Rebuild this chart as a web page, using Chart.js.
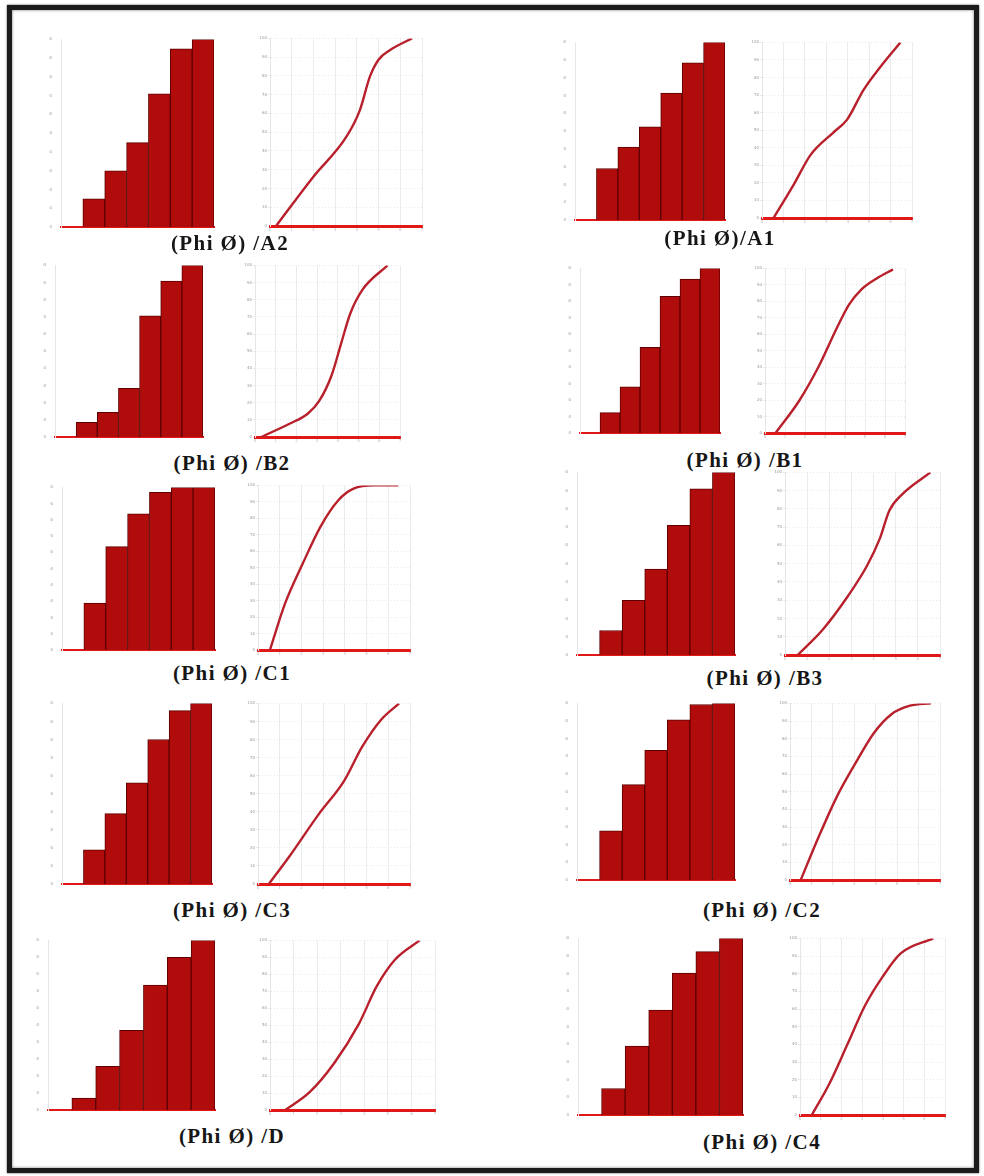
<!DOCTYPE html>
<html>
<head>
<meta charset="utf-8">
<script src="https://cdn.jsdelivr.net/npm/chart.js@4"></script>
<style>
  html, body { margin: 0; padding: 0; background: #fff; }
  body { width: 984px; height: 1176px; position: relative; overflow: hidden; }
  #frame {
    position: absolute; left: 7px; top: 5px; width: 962px; height: 1158px;
    border: 5px solid #1b1b1b; box-shadow: inset 0 0 3px #777, 0 0 2px #555;
  }
  canvas { position: absolute; }
  .cap {
    position: absolute; font-family: "Liberation Serif", "DejaVu Serif", serif;
    font-weight: bold; font-size: 21px; letter-spacing: 1.4px; color: #161616; white-space: nowrap;
    transform: translate(-50%, -50%);
  }
</style>
</head>
<body>
<div id="frame"></div>

<script>
Chart.defaults.animation = false;

// classes phi (axe x des histogrammes)
const phiClasses = ['-2', '-1', '0', '1', '2', '3', '4'];
const yTicks = [0, 10, 20, 30, 40, 50, 60, 70, 80, 90, 100];

// histogrammes cumulés (%)
const histA2 = [0, 15, 30, 45, 71, 95, 100];
const histA1 = [0, 29, 41, 52.5, 71.5, 88.5, 100];
const histB2 = [0, 8.6, 14.4, 28.4, 70.6, 90.8, 100];
const histB1 = [0, 12.4, 28, 52, 83, 93.5, 100];
const histC1 = [0, 28.9, 63.6, 83.8, 97, 100, 100];
const histB3 = [0, 13.4, 30, 47, 71, 91, 100];
const histC3 = [0, 18.9, 39, 56, 80, 96, 100];
const histC2 = [0, 27.9, 54, 73.4, 90.7, 99.4, 100];
const histD  = [0, 7, 25.7, 47, 73.7, 90, 100];
const histC4 = [0, 15, 39, 59.4, 80.4, 92.5, 100];

// courbes cumulatives : x (phi) et y (%)
const curveA2X = [0.28, 1.98, 3.52, 4.14, 4.6, 4.99, 5.53, 6.54];
const curveA2Y = [0, 26, 47.6, 61.8, 79.6, 88.5, 93.8, 100];
const curveA1X = [0.54, 1.48, 2.26, 3.34, 3.97, 4.74, 5.52, 6.46];
const curveA1Y = [0, 19, 35.8, 48.8, 56, 73, 86, 100];
const curveB2X = [0.3, 1.64, 2.53, 3.1, 3.7, 4.17, 4.6, 5.2, 6.4];
const curveB2Y = [0, 7.6, 13.4, 21, 36, 55, 72, 86, 100];
const curveB1X = [0.53, 1.71, 2.65, 3.58, 4.2, 4.8, 5.6, 6.4];
const curveB1Y = [0, 19.6, 39.6, 63.5, 78, 87, 94, 99.4];
const curveC1X = [0.55, 1.24, 2.06, 2.88, 3.7, 4.4, 5.36, 6.46];
const curveC1Y = [0, 28, 52.5, 75, 91, 98, 100, 100];
const curveB3X = [0.57, 1.71, 2.86, 3.71, 4.29, 4.71, 5.29, 6.57];
const curveB3Y = [0, 14, 32.6, 49, 64, 79, 88, 100];
const curveC3X = [0.5, 1.4, 2.8, 3.96, 4.8, 5.65, 6.5];
const curveC3Y = [0, 14.5, 38.7, 57, 76, 90.7, 100];
const curveC2X = [0.5, 1.36, 2.2, 3.05, 3.9, 4.75, 5.6, 6.58];
const curveC2Y = [0, 25, 47.5, 66, 83, 94, 98.7, 100];
const curveDX  = [0.65, 1.68, 2.72, 3.76, 4.53, 5.3, 6.35];
const curveDY  = [0, 10.5, 27.6, 50.5, 73, 88.6, 100];
const curveC4X = [0.57, 1.43, 2.29, 3.14, 4, 4.86, 6.43];
const curveC4Y = [0, 18, 40, 62, 78.5, 91.5, 100];

const captions = ['(Phi Ø) /A2', '(Phi Ø)/A1', '(Phi Ø) /B2', '(Phi Ø) /B1', '(Phi Ø) /C1',
                  '(Phi Ø) /B3', '(Phi Ø) /C3', '(Phi Ø) /C2', '(Phi Ø) /D', '(Phi Ø) /C4'];
const hists = [histA2, histA1, histB2, histB1, histC1, histB3, histC3, histC2, histD, histC4];
const curvesX = [curveA2X, curveA1X, curveB2X, curveB1X, curveC1X, curveB3X, curveC3X, curveC2X, curveDX, curveC4X];
const curvesY = [curveA2Y, curveA1Y, curveB2Y, curveB1Y, curveC1Y, curveB3Y, curveC3Y, curveC2Y, curveDY, curveC4Y];

// placement : [hist gauche, droite, haut, bas], [courbe ...], [légende cx, cy]
const layout = [
  [[61, 214, 39, 227], [270, 422, 38, 226], [230, 243]],
  [[575, 725, 42, 220], [762, 912, 42, 218], [720, 238]],
  [[55, 203, 265, 437], [255, 400, 265, 437], [232, 463]],
  [[580, 720, 268, 433], [765, 905, 268, 433], [745, 460]],
  [[62, 215, 487, 650], [258, 410, 485, 650], [232, 673]],
  [[577, 735, 472, 655], [785, 940, 472, 655], [765, 678]],
  [[62, 212, 703, 884], [258, 410, 703, 884], [232, 910]],
  [[577, 735, 703, 880], [790, 940, 703, 880], [762, 910]],
  [[48, 215, 940, 1110], [270, 435, 940, 1110], [232, 1136]],
  [[578, 743, 938, 1115], [800, 945, 938, 1115], [762, 1142]]
];

const PADL = 12, PADT = 3, PADR = 3, PADB = 8;

function makeCanvas(box) {
  const c = document.createElement('canvas');
  const w = box[1] - box[0] + PADL + PADR;
  const h = box[3] - box[2] + PADT + PADB;
  c.width = w; c.height = h;
  c.style.left = (box[0] - PADL) + 'px';
  c.style.top = (box[2] - PADT) + 'px';
  c.style.width = w + 'px'; c.style.height = h + 'px';
  document.body.appendChild(c);
  return c.getContext('2d');
}

const tinyFont = { size: 4, family: 'DejaVu Sans' };

function yAxis(grid) {
  return {
    min: 0, max: 100,
    afterBuildTicks: ax => { ax.ticks = yTicks.map(v => ({ value: v })); },
    afterFit: ax => { ax.width = PADL; },
    ticks: { font: tinyFont, color: '#999', padding: 1, autoSkip: false },
    grid: grid ? { color: '#e3e3e3', lineWidth: 0.8, tickLength: 2 } : { display: false },
    border: { color: '#e6e6e6', dash: [1, 2] }
  };
}

hists.forEach((h, i) => {
  const [hb, cb, cap] = layout[i];

  new Chart(makeCanvas(hb), {
    type: 'bar',
    data: {
      labels: phiClasses,
      datasets: [{
        data: h,
        backgroundColor: '#b00c0c',
        borderColor: '#5e0000',
        borderWidth: 1,
        barPercentage: 1,
        categoryPercentage: 1
      }]
    },
    options: {
      responsive: false,
      layout: { padding: { top: PADT, right: PADR } },
      plugins: { legend: { display: false }, tooltip: { enabled: false } },
      scales: {
        x: {
          afterFit: ax => { ax.height = PADB; },
          ticks: { font: tinyFont, color: '#bbb', padding: 0 },
          grid: { display: false },
          border: { color: '#e01818', width: 2 }
        },
        y: yAxis(false)
      }
    }
  });

  new Chart(makeCanvas(cb), {
    type: 'scatter',
    data: {
      datasets: [{
        data: curvesX[i].map((x, k) => ({ x: x, y: curvesY[i][k] })),
        showLine: true,
        borderColor: '#b8202c',
        borderWidth: 2.4,
        pointRadius: 0,
        cubicInterpolationMode: 'monotone'
      }]
    },
    options: {
      responsive: false,
      layout: { padding: { top: PADT, right: PADR } },
      plugins: { legend: { display: false }, tooltip: { enabled: false } },
      scales: {
        x: {
          min: 0, max: 7,
          afterFit: ax => { ax.height = PADB; },
          ticks: { stepSize: 1, font: tinyFont, color: '#bbb', padding: 0 },
          grid: { color: '#e6e6e6', lineWidth: 0.8, tickLength: 2 },
          border: { color: '#e01818', width: 3 }
        },
        y: yAxis(true)
      }
    }
  });

  const d = document.createElement('div');
  d.className = 'cap';
  d.textContent = captions[i];
  d.style.left = cap[0] + 'px';
  d.style.top = cap[1] + 'px';
  document.body.appendChild(d);
});
</script>
</body>
</html>
